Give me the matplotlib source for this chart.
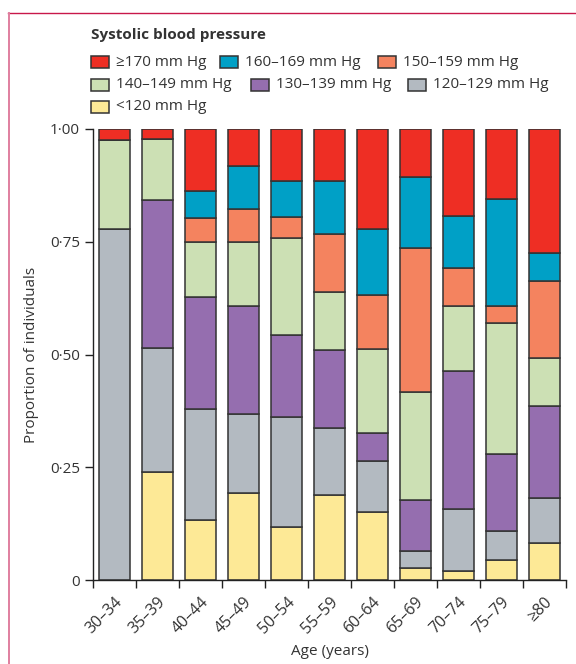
import matplotlib
matplotlib.use("Agg")
import matplotlib.pyplot as plt
from matplotlib.patches import Rectangle
from matplotlib.lines import Line2D
import numpy as np

plt.rcParams['font.family'] = ['Open Sans', 'DejaVu Sans']

ages = ["30–34", "35–39", "40–44", "45–49", "50–54", "55–59",
        "60–64", "65–69", "70–74", "75–79", "≥80"]

# share of each systolic band per age group, bottom band first
lt120 = [0.000, 0.240, 0.134, 0.194, 0.118, 0.189, 0.150, 0.026, 0.020, 0.044, 0.083]
b120 = [0.778, 0.274, 0.245, 0.173, 0.243, 0.147, 0.114, 0.038, 0.137, 0.065, 0.099]
b130 = [0.000, 0.328, 0.249, 0.241, 0.182, 0.173, 0.063, 0.113, 0.306, 0.170, 0.203]
b140 = [0.198, 0.136, 0.121, 0.141, 0.215, 0.130, 0.185, 0.239, 0.145, 0.291, 0.108]
b150 = [0.000, 0.000, 0.054, 0.074, 0.047, 0.128, 0.120, 0.321, 0.084, 0.037, 0.170]
b160 = [0.000, 0.000, 0.060, 0.096, 0.080, 0.118, 0.146, 0.157, 0.116, 0.238, 0.063]
ge170 = [0.024, 0.022, 0.137, 0.081, 0.115, 0.115, 0.222, 0.106, 0.192, 0.155, 0.274]

bands = [lt120, b120, b130, b140, b150, b160, ge170]
band_labels = ["<120 mm Hg", "120–129 mm Hg", "130–139 mm Hg", "140–149 mm Hg",
               "150–159 mm Hg", "160–169 mm Hg", "≥170 mm Hg"]
colors = ["#fde996", "#b3bac1", "#956eaf", "#cce0b4",
          "#f4835f", "#00a0c6", "#ee2e24"]
edge = "#333333"
txt = "#333333"

fig = plt.figure(figsize=(5.76, 6.64), dpi=100)
W, H = 576, 664
ax = fig.add_axes([93 / W, 1 - 580 / H, 473 / W, 451 / H])

x = np.arange(len(ages))
bottom = np.zeros(len(ages))
for vals, col in zip(bands, colors):
    vals = np.array(vals)
    ax.bar(x, vals, width=0.7, bottom=bottom, color=col,
           edgecolor=edge, linewidth=1.1, zorder=2)
    bottom += vals

ax.set_xlim(-0.5, len(ages) - 0.5)
ax.set_ylim(0, 1)
for s in ["top", "right"]:
    ax.spines[s].set_visible(False)
for s in ["left", "bottom"]:
    ax.spines[s].set_color("#222222")
    ax.spines[s].set_linewidth(1.0)

ax.set_yticks([0, 0.25, 0.5, 0.75, 1.0])
ax.set_yticklabels(["0", "0·25", "0·50", "0·75", "1·00"])
ax.set_xticks(np.arange(len(ages) + 1) - 0.5)
ax.set_xticklabels([])
ax.set_xticks(x, minor=True)
ax.set_xticklabels(ages, minor=True, rotation=45, ha="right",
                   rotation_mode="anchor")
ax.tick_params(axis="x", which="minor", length=0, pad=10,
               labelsize=11.5, colors=txt)
ax.tick_params(axis="x", which="major", length=6, width=1.0, color="#222222")
ax.tick_params(axis="y", length=6, width=1.0, color="#222222",
               labelsize=11, labelcolor=txt)
ax.set_ylabel("Proportion of individuals", fontsize=11, color=txt,
              labelpad=8)
ax.set_xlabel("Age (years)", fontsize=11, color=txt, labelpad=5)

# legend drawn as a flowing block of swatches and labels
fig.text(91 / W, 1 - 35 / H, "Systolic blood pressure", fontsize=11,
         fontweight="bold", color=txt, va="center", ha="left")
rows = [
    [(6, 91), (5, 220), (4, 378)],
    [(3, 91), (2, 251), (1, 408)],
    [(0, 91)],
]
row_y = [62, 85, 107]
for items, yc in zip(rows, row_y):
    for idx, xl in items:
        fig.patches.append(Rectangle((xl / W, 1 - (yc + 6) / H), 18 / W, 12 / H,
                                     transform=fig.transFigure,
                                     facecolor=colors[idx], edgecolor=edge,
                                     linewidth=1.1))
        fig.text((xl + 25) / W, 1 - yc / H, band_labels[idx], fontsize=11,
                 color=txt, va="center", ha="left")

# page frame
fig.add_artist(Line2D([8 / W, 1], [1 - 12.5 / H, 1 - 12.5 / H],
                      transform=fig.transFigure, color="#c8184a", lw=1.0))
fig.add_artist(Line2D([9 / W, 9 / W], [0, 1 - 12.5 / H],
                      transform=fig.transFigure, color="#e07f9f", lw=1.4))

fig.savefig("out.png", dpi=100)
